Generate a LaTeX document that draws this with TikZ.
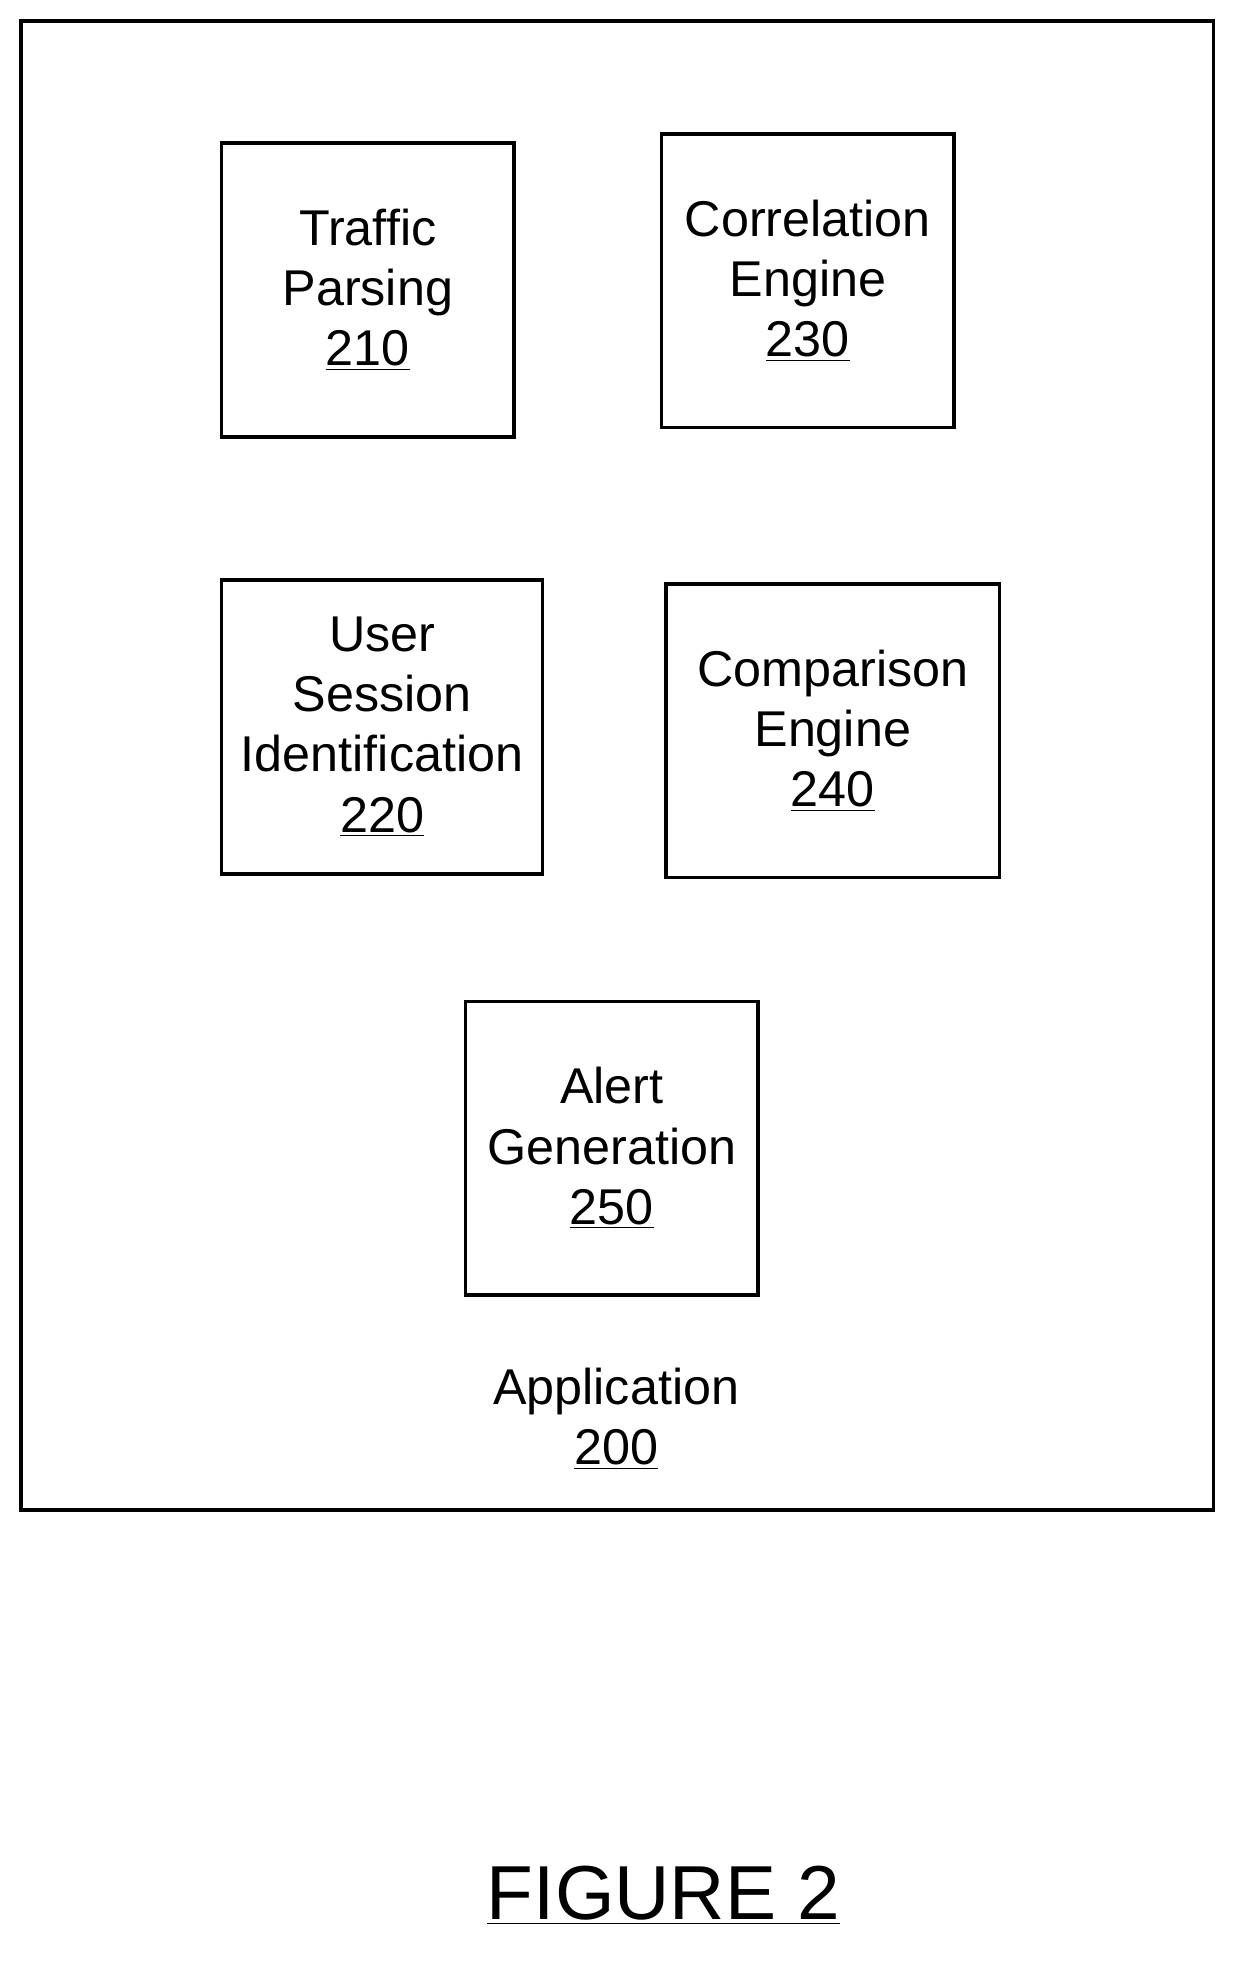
\documentclass[tikz,border=0pt]{standalone}
\usepackage{fontspec}
\setmainfont{Liberation Sans}
\usetikzlibrary{positioning}
\tikzset{
  module/.style={draw, line width=1.6pt, minimum width=4.7cm, minimum height=4.72cm,
    align=center, font=\fontsize{23}{27.5}\selectfont},
}
\begin{document}
\begin{tikzpicture}[x=0.02cm,y=-0.02cm]
        \useasboundingbox (0,0) rectangle (1000,1581);

        % Application frame
        \draw[line width=1.6pt] (17,17) rectangle (975,1213);

        % Modules
        \node[module] (parsing) at (295.5,233) {Traffic\\Parsing\\\underline{210}};
        \node[module] (correlation) at (649,225.5) {Correlation\\Engine\\\underline{230}};
        \node[module, minimum width=5.16cm] (session) at (307,584) {User\\Session\\Identification\\\underline{220}};
        \node[module, minimum width=5.36cm] (comparison) at (669,587) {Comparison\\Engine\\\underline{240}};
        \node[module] (alert) at (491.5,922.5) {Alert\\Generation\\\underline{250}};

        % Labels
        \node[align=center, font=\fontsize{23}{27.5}\selectfont] (app) at (495,1140) {Application\\\underline{200}};
        \node[font=\fontsize{35}{42}\selectfont] (fig) at (533,1523) {\underline{FIGURE 2}};

    \end{tikzpicture}
\end{document}
